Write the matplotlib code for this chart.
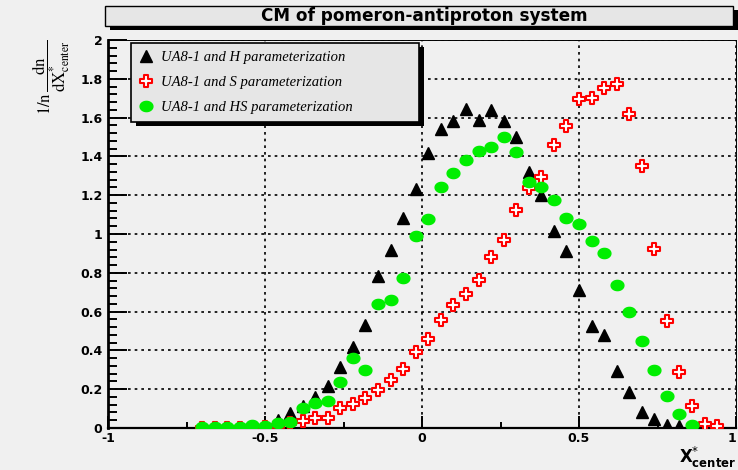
import numpy as np
import matplotlib.pyplot as plt
from matplotlib.path import Path
from matplotlib.patches import Rectangle
from matplotlib.ticker import MultipleLocator, FuncFormatter
from matplotlib.font_manager import FontProperties

plt.rcParams['axes.unicode_minus'] = False
plt.rcParams['font.family'] = ['DejaVu Sans']

# bin centres of X*_center
x_center = [-0.70, -0.66, -0.62, -0.58, -0.54, -0.50, -0.46, -0.42, -0.38, -0.34,
            -0.30, -0.26, -0.22, -0.18, -0.14, -0.10, -0.06, -0.02, 0.02, 0.06,
            0.10, 0.14, 0.18, 0.22, 0.26, 0.30, 0.34, 0.38, 0.42, 0.46,
            0.50, 0.54, 0.58, 0.62, 0.66, 0.70, 0.74, 0.78, 0.82, 0.86,
            0.90, 0.94]

# UA8-1 and H parameterization
h_param = [0.005, 0.005, 0.005, 0.005, 0.008, 0.012, 0.041, 0.076, 0.113, 0.158,
           0.216, 0.313, 0.415, 0.532, 0.785, 0.919, 1.081, 1.232, 1.417, 1.542,
           1.585, 1.642, 1.590, 1.637, 1.585, 1.499, 1.321, 1.200, 1.017, 0.914,
           0.711, 0.525, 0.478, 0.296, 0.186, 0.084, 0.045, 0.015, 0.010]

# UA8-1 and S parameterization
s_param = [0.0, 0.0, 0.0, 0.0, 0.0, 0.005, 0.010, 0.024, 0.036, 0.050,
           0.052, 0.103, 0.125, 0.155, 0.194, 0.246, 0.306, 0.390, 0.461, 0.558,
           0.636, 0.690, 0.764, 0.884, 0.967, 1.125, 1.237, 1.292, 1.460, 1.558,
           1.697, 1.700, 1.752, 1.773, 1.620, 1.348, 0.924, 0.553, 0.288, 0.113,
           0.022, 0.010]

# UA8-1 and HS parameterization
hs_param = [0.005, 0.005, 0.005, 0.005, 0.015, 0.010, 0.028, 0.033, 0.101, 0.127,
            0.141, 0.235, 0.363, 0.299, 0.637, 0.658, 0.774, 0.990, 1.075, 1.240,
            1.316, 1.381, 1.429, 1.451, 1.498, 1.422, 1.269, 1.243, 1.176, 1.082,
            1.051, 0.965, 0.901, 0.735, 0.596, 0.449, 0.300, 0.163, 0.074, 0.015]

labels = ['UA8-1 and H parameterization',
          'UA8-1 and S parameterization',
          'UA8-1 and HS parameterization']

bg = '#f0f0f0'
W, H = 738, 470

# custom markers: open cross and slightly flat circle
a = 0.33
cross_verts = [(-a, 1), (a, 1), (a, a), (1, a), (1, -a), (a, -a), (a, -1), (-a, -1),
               (-a, -a), (-1, -a), (-1, a), (-a, a), (-a, 1)]
cross_marker = Path([(vx, 0.9 * vy) for vx, vy in cross_verts], closed=True)
t = np.linspace(0, 2 * np.pi, 64)
ellipse_marker = Path(np.column_stack([np.cos(t), 0.8 * np.sin(t)]), closed=True)

fig = plt.figure(figsize=(W / 100, H / 100), dpi=100, facecolor=bg)
ax = fig.add_axes([108 / W, 1 - 428 / H, 628 / W, 388 / H], facecolor=bg)

l1, = ax.plot(x_center[:len(h_param)], h_param, linestyle='none', marker='^',
              markersize=9.2, color='black', zorder=3)
l2, = ax.plot(x_center[:len(s_param)], s_param, linestyle='none', marker=cross_marker,
              markersize=8.8, markerfacecolor='white', markeredgecolor='#ff0000',
              markeredgewidth=1.5, zorder=3)
l3, = ax.plot(x_center[:len(hs_param)], hs_param, linestyle='none', marker=ellipse_marker,
              markersize=9.2, color='#00ee00', zorder=3)

ax.set_xlim(-1, 1)
ax.set_ylim(0, 2)

ax.xaxis.set_major_locator(MultipleLocator(0.5))
ax.xaxis.set_minor_locator(MultipleLocator(0.25))
ax.yaxis.set_major_locator(MultipleLocator(0.2))
ax.yaxis.set_minor_locator(MultipleLocator(0.04))
# the label at x=1 is drawn separately, right aligned, so it stays inside the picture
ax.xaxis.set_major_formatter(FuncFormatter(lambda v, p: '' if v > 0.99 else f'{v:g}'))
ax.yaxis.set_major_formatter(FuncFormatter(lambda v, p: f'{v:g}'))

ax.tick_params(axis='both', which='both', direction='in', width=1.4, color='black',
               labelsize=9)
ax.tick_params(axis='y', which='major', length=13.7, pad=4)
ax.tick_params(axis='y', which='minor', length=6.5)
ax.tick_params(axis='x', which='major', length=8.6, pad=3)
ax.tick_params(axis='x', which='minor', length=4.3)
for lab in ax.get_xticklabels() + ax.get_yticklabels():
    lab.set_fontweight('bold')
ax.text(1.0, -4.5 / 388, '1', transform=ax.get_xaxis_transform(), ha='right', va='top',
        fontsize=9, fontweight='bold', clip_on=False)

ax.grid(True, which='major', color='black', linestyle=(0, (1.6, 2.4)), linewidth=1.2)
ax.set_axisbelow(True)

ax.spines['left'].set_linewidth(2.0)
ax.spines['bottom'].set_linewidth(1.6)
ax.spines['top'].set_linewidth(0.7)
ax.spines['right'].set_linewidth(0.7)

ax.set_ylabel(r'$\mathrm{1/n}\,\dfrac{\mathrm{dn}}{\mathrm{dX}^{*}_{\mathrm{center}}}$',
              loc='top', fontsize=12, math_fontfamily='stix', labelpad=6)
ax.set_xlabel(r'$\mathbf{X}^{*}_{\mathbf{center}}$', loc='right', fontsize=12,
              math_fontfamily='dejavusans', labelpad=0)

leg = ax.legend([l1, l2, l3], labels, loc='upper left',
                bbox_to_anchor=(131 / W, 1 - 43 / H, 288 / W, 0),
                bbox_transform=fig.transFigure, mode='expand', borderaxespad=0,
                fancybox=False, edgecolor='black', facecolor='#e6e6e6', framealpha=1,
                prop=FontProperties(family='Liberation Serif', style='italic', size=10.5),
                handlelength=0.95, handletextpad=0.55, labelspacing=0.8,
                borderpad=0.55, numpoints=1)
leg.get_frame().set_linewidth(1.2)
leg.set_zorder(6)

# title box with shadow
tx0, tx1, ty0, ty1 = 105, 733, 6, 26
fig.add_artist(Rectangle((tx0 / W + 5 / W, 1 - ty1 / H - 4 / H), (tx1 - tx0) / W, (ty1 - ty0) / H,
                         transform=fig.transFigure, facecolor='black', edgecolor='none'))
fig.add_artist(Rectangle((tx0 / W, 1 - ty1 / H), (tx1 - tx0) / W, (ty1 - ty0) / H,
                         transform=fig.transFigure, facecolor='#e6e6e6',
                         edgecolor='black', linewidth=1.0))
fig.text(424 / W, 1 - (ty0 + ty1) / 2 / H, 'CM of pomeron-antiproton system',
         ha='center', va='center', fontsize=12.2, fontweight='bold')

# legend shadow
fig.canvas.draw()
bb = leg.get_window_extent().transformed(fig.transFigure.inverted())
ax.add_patch(Rectangle((bb.x0 + 5 / W, bb.y0 - 4 / H), bb.width, bb.height,
                       transform=fig.transFigure, facecolor='black', edgecolor='none',
                       zorder=5.5, clip_on=False))

fig.savefig('out.png', dpi=100, facecolor=bg)
